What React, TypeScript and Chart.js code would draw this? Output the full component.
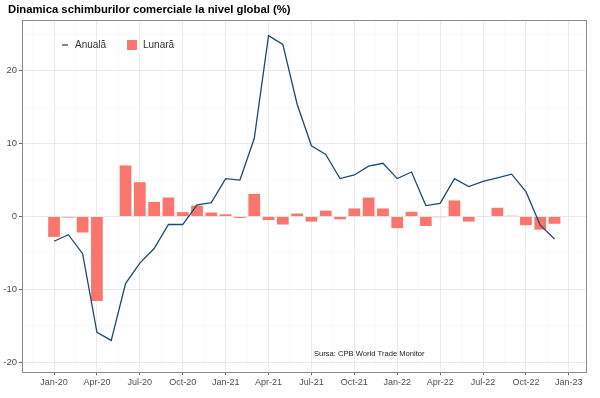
import React, { useEffect, useRef } from "react";
import { Chart, registerables } from "chart.js";

Chart.register(...registerables);

const TITLE = "Dinamica schimburilor comerciale la nivel global (%)";
const SOURCE = "Sursa: CPB World Trade Monitor";
const SERIES_ANNUAL = "Anuală";
const SERIES_MONTHLY = "Lunară";

// months Jan-20 .. Dec-22 (index 0..35)
const months = [
  "Jan-20","Feb-20","Mar-20","Apr-20","May-20","Jun-20","Jul-20","Aug-20","Sep-20","Oct-20","Nov-20","Dec-20",
  "Jan-21","Feb-21","Mar-21","Apr-21","May-21","Jun-21","Jul-21","Aug-21","Sep-21","Oct-21","Nov-21","Dec-21",
  "Jan-22","Feb-22","Mar-22","Apr-22","May-22","Jun-22","Jul-22","Aug-22","Sep-22","Oct-22","Nov-22","Dec-22",
];

const annual = [
  -3.4, -2.5, -5.1, -15.9, -17.0, -9.2, -6.4, -4.4, -1.1, -1.1, 1.6, 1.9,
  5.2, 5.0, 10.7, 24.8, 23.6, 15.4, 9.7, 8.5, 5.2, 5.7, 6.9, 7.3,
  5.2, 6.1, 1.5, 1.8, 5.2, 4.1, 4.8, 5.3, 5.8, 3.4, -1.2, -3.1,
];

const monthly = [
  -2.8, -0.15, -2.2, -11.6, 0.0, 7.0, 4.7, 2.0, 2.6, 0.6, 1.5, 0.55,
  0.3, -0.2, 3.1, -0.5, -1.1, 0.4, -0.7, 0.8, -0.4, 1.1, 2.6, 1.1,
  -1.6, 0.65, -1.3, -0.1, 2.2, -0.7, 0.05, 1.2, 0.1, -1.2, -1.8, -1.0,
];

const xTickLabels = [
  "Jan-20","Apr-20","Jul-20","Oct-20","Jan-21","Apr-21","Jul-21","Oct-21","Jan-22","Apr-22","Jul-22","Oct-22","Jan-23",
];

const yMajorTicks = [-20, -10, 0, 10, 20];

const FONT = "'Liberation Sans', Arial, Helvetica, sans-serif";

export default function App() {
  const ref = useRef<HTMLCanvasElement | null>(null);

  useEffect(() => {
    document.body.style.margin = "0";
    const canvas = ref.current;
    if (!canvas) return;

    const overlay = {
      id: "overlay",
      beforeDraw(chart: any) {
        const ctx = chart.ctx;
        ctx.save();
        ctx.fillStyle = "#ffffff";
        ctx.fillRect(0, 0, chart.width, chart.height);
        ctx.restore();
      },
      afterDraw(chart: any) {
        const ctx = chart.ctx;
        const a = chart.chartArea;
        ctx.save();
        // panel border
        ctx.strokeStyle = "#8c8c8c";
        ctx.lineWidth = 1;
        ctx.strokeRect(Math.round(a.left) + 0.5, Math.round(a.top) + 0.5, Math.round(a.right - a.left), Math.round(a.bottom - a.top));
        // title
        ctx.fillStyle = "#000000";
        ctx.font = `bold 11.3px ${FONT}`;
        ctx.textBaseline = "middle";
        ctx.textAlign = "left";
        ctx.fillText(TITLE, 8, 10);
        // legend
        const ly = a.top + 25;
        ctx.strokeStyle = "#1f4a6e";
        ctx.lineWidth = 1.3;
        ctx.beginPath();
        ctx.moveTo(a.left + 40, ly);
        ctx.lineTo(a.left + 46, ly);
        ctx.stroke();
        ctx.fillStyle = "#333333";
        ctx.font = `10px ${FONT}`;
        ctx.fillText(SERIES_ANNUAL, a.left + 53, ly);
        ctx.fillStyle = "#F8766D";
        ctx.fillRect(a.left + 105, ly - 5, 10, 10);
        ctx.fillStyle = "#333333";
        ctx.fillText(SERIES_MONTHLY, a.left + 121, ly);
        // source
        ctx.font = `7.6px ${FONT}`;
        ctx.fillStyle = "#222222";
        ctx.fillText(SOURCE, 314, 354);
        ctx.restore();
      },
    };

    const chart = new Chart(canvas, {
      data: {
        datasets: [
          {
            type: "line",
            label: SERIES_ANNUAL,
            data: annual.map((v, i) => ({ x: i, y: v })),
            borderColor: "#1f4a6e",
            borderWidth: 1.3,
            pointRadius: 0,
            tension: 0,
            order: 0,
          },
          {
            type: "bar",
            label: SERIES_MONTHLY,
            data: monthly.map((v, i) => ({ x: i, y: v })),
            backgroundColor: "#F8766D",
            borderWidth: 0,
            categoryPercentage: 1,
            barPercentage: 0.82,
            order: 1,
          },
        ],
      },
      options: {
        responsive: false,
        animation: false,
        maintainAspectRatio: false,
        layout: { padding: { top: 20, right: 14, left: 0, bottom: 0 } },
        plugins: {
          legend: { display: false },
          title: { display: false },
          tooltip: { enabled: false },
        },
        scales: {
          x: {
            type: "linear",
            offset: false,
            min: -2.24,
            max: 37.2,
            afterBuildTicks: (scale: any) => {
              const t: any[] = [];
              for (let v = -1.5; v <= 37.5; v += 1.5) t.push({ value: v });
              scale.ticks = t;
            },
            afterFit: (scale: any) => {
              scale.height = 26;
            },
            ticks: {
              autoSkip: false,
              maxRotation: 0,
              padding: 2,
              color: "#4d4d4d",
              font: { family: FONT, size: 9 },
              callback: (v: any) => {
                const n = Number(v);
                if (n >= 0 && Math.abs(n % 3) < 1e-6) return xTickLabels[n / 3] ?? "";
                return "";
              },
            },
            grid: {
              offset: false,
              color: (c: any) => {
                const n = c.tick ? c.tick.value : 0;
                return Math.abs(n % 3) < 1e-6 ? "#e6e6e6" : "#f3f3f3";
              },
              lineWidth: (c: any) => {
                const n = c.tick ? c.tick.value : 0;
                return Math.abs(n % 3) < 1e-6 ? 0.9 : 0.6;
              },
              tickColor: (c: any) => {
                const n = c.tick ? c.tick.value : 0;
                return Math.abs(n % 3) < 1e-6 && n >= 0 ? "#555555" : "rgba(0,0,0,0)";
              },
              tickLength: 3,
              drawOnChartArea: true,
            },
            border: { display: true, color: "#8c8c8c", width: 1 },
          },
          y: {
            type: "linear",
            min: -21.33,
            max: 26.95,
            afterBuildTicks: (scale: any) => {
              const t: any[] = [];
              for (let v = -20; v <= 25; v += 5) t.push({ value: v });
              scale.ticks = t;
            },
            afterFit: (scale: any) => {
              scale.width = 22;
            },
            ticks: {
              padding: 2,
              color: "#4d4d4d",
              font: { family: FONT, size: 9.5 },
              callback: (v: any) => {
                const n = Number(v);
                return yMajorTicks.includes(n) ? String(n) : "";
              },
            },
            grid: {
              color: (c: any) => {
                const n = c.tick ? c.tick.value : 0;
                return yMajorTicks.includes(n) ? "#e6e6e6" : "#f3f3f3";
              },
              lineWidth: (c: any) => {
                const n = c.tick ? c.tick.value : 0;
                return yMajorTicks.includes(n) ? 0.9 : 0.6;
              },
              tickColor: (c: any) => {
                const n = c.tick ? c.tick.value : 0;
                return yMajorTicks.includes(n) ? "#555555" : "rgba(0,0,0,0)";
              },
              tickLength: 3,
            },
            border: { display: true, color: "#8c8c8c", width: 1 },
          },
        },
      },
      plugins: [overlay],
    } as any);

    return () => chart.destroy();
  }, []);

  return (
    <div style={{ position: "absolute", left: 0, top: 0, width: 600, height: 398 }}>
      <canvas ref={ref} width={600} height={398} style={{ width: 600, height: 398, display: "block" }} />
    </div>
  );
}
